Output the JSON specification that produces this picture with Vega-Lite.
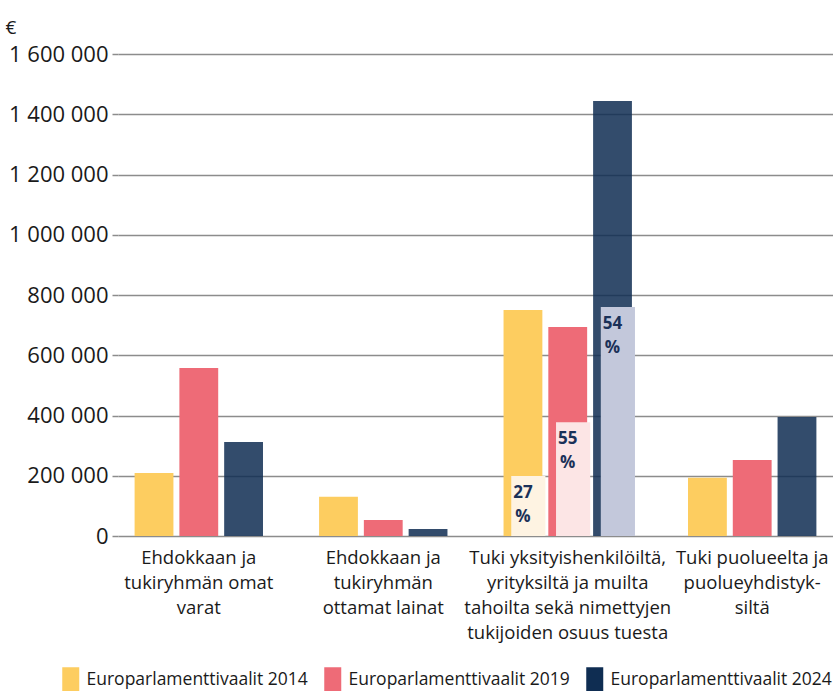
{
  "$schema": "https://vega.github.io/schema/vega-lite/v6.json",
  "autosize": {"type": "none"},
  "padding": {"left": 118, "top": 54, "right": 0, "bottom": 155},
  "width": 715,
  "height": 482,
  "background": "white",
  "config": {
    "font": "Open Sans",
    "view": {"stroke": null},
    "text": {"font": "Open Sans"},
    "axis": {"labelColor": "#1a1a1a", "titleColor": "#1a1a1a", "labelFont": "Open Sans", "titleFont": "Open Sans"},
    "legend": {"labelFont": "Open Sans"}
  },
  "data": {
    "values": [
      {"category": "Ehdokkaan ja\ntukiryhmän omat\nvarat", "year": "Europarlamenttivaalit 2014", "value": 209000},
      {"category": "Ehdokkaan ja\ntukiryhmän omat\nvarat", "year": "Europarlamenttivaalit 2019", "value": 558000},
      {"category": "Ehdokkaan ja\ntukiryhmän omat\nvarat", "year": "Europarlamenttivaalit 2024", "value": 312000},
      {"category": "Ehdokkaan ja\ntukiryhmän\nottamat lainat", "year": "Europarlamenttivaalit 2014", "value": 130000},
      {"category": "Ehdokkaan ja\ntukiryhmän\nottamat lainat", "year": "Europarlamenttivaalit 2019", "value": 53000},
      {"category": "Ehdokkaan ja\ntukiryhmän\nottamat lainat", "year": "Europarlamenttivaalit 2024", "value": 23000},
      {"category": "Tuki yksityishenkilöiltä,\nyrityksiltä ja muilta\ntahoilta sekä nimettyjen\ntukijoiden osuus tuesta", "year": "Europarlamenttivaalit 2014", "value": 750000, "named": 199000, "share": "27 %"},
      {"category": "Tuki yksityishenkilöiltä,\nyrityksiltä ja muilta\ntahoilta sekä nimettyjen\ntukijoiden osuus tuesta", "year": "Europarlamenttivaalit 2019", "value": 694000, "named": 378000, "share": "55 %"},
      {"category": "Tuki yksityishenkilöiltä,\nyrityksiltä ja muilta\ntahoilta sekä nimettyjen\ntukijoiden osuus tuesta", "year": "Europarlamenttivaalit 2024", "value": 1444000, "named": 760000, "share": "54 %"},
      {"category": "Tuki puolueelta ja\npuolueyhdistyk-\nsiltä", "year": "Europarlamenttivaalit 2014", "value": 193000},
      {"category": "Tuki puolueelta ja\npuolueyhdistyk-\nsiltä", "year": "Europarlamenttivaalit 2019", "value": 252000},
      {"category": "Tuki puolueelta ja\npuolueyhdistyk-\nsiltä", "year": "Europarlamenttivaalit 2024", "value": 395000}
    ]
  },
  "encoding": {
    "x": {
      "field": "category", "type": "nominal", "sort": null,
      "scale": {"paddingInner": 0.304, "paddingOuter": 0.09},
      "axis": {
        "title": null, "domain": false, "ticks": false, "labelAngle": 0,
        "labelExpr": "split(datum.label, '\\n')",
        "labelFontSize": 18.5, "labelLineHeight": 25, "labelPadding": 12,
        "labelLimit": 300, "labelColor": "#1a1a1a"
      }
    },
    "xOffset": {"field": "year", "type": "nominal", "scale": {"paddingInner": 0.133, "paddingOuter": 0}}
  },
  "layer": [
    {
      "mark": {"type": "bar"},
      "encoding": {
        "y": {
          "field": "value", "type": "quantitative",
          "scale": {"domain": [0, 1600000], "nice": false},
          "axis": {
            "values": [0, 200000, 400000, 600000, 800000, 1000000, 1200000, 1400000, 1600000],
            "labelExpr": "replace(replace(format(datum.value, ','), ',', ' '), ',', ' ')",
            "grid": true, "gridColor": "#8c8c8c", "gridWidth": 1.5,
            "tickColor": "#8c8c8c", "tickWidth": 1.5, "tickSize": 6,
            "domain": false, "labelFontSize": 22, "labelPadding": 4,
            "title": "€", "titleAngle": 0, "titleX": -113, "titleY": -27,
            "titleAlign": "left", "titleBaseline": "middle", "titleFontSize": 19, "titleFontWeight": "normal"
          }
        },
        "color": {
          "field": "year", "type": "nominal",
          "scale": {"range": ["#fdcd60", "#ee6b77", "#0f2d52"]},
          "legend": {
            "title": null, "orient": "none", "legendX": -56, "legendY": 617,
            "direction": "horizontal", "symbolType": "M-1,-1.5H1V1.5H-1Z", "symbolSize": 289,
            "symbolStrokeWidth": 0, "labelFont": "Open Sans", "labelFontSize": 17.5, "labelOffset": 7,
            "columnPadding": 16, "labelColor": "#1a1a1a", "labelLimit": 300
          }
        },
        "opacity": {"condition": {"test": "datum.year == 'Europarlamenttivaalit 2024'", "value": 0.85}, "value": 1}
      }
    },
    {
      "transform": [{"filter": "datum.named != null"}],
      "mark": {"type": "bar", "width": {"band": 0.88}},
      "encoding": {
        "y": {"field": "named", "type": "quantitative"},
        "color": {
          "field": "year", "type": "nominal",
          "scale": {"range": ["#fef3e2", "#fce5e5", "#c3c8db"]},
          "legend": null
        }
      }
    },
    {
      "transform": [{"filter": "datum.named != null"}],
      "mark": {"type": "text", "font": "Open Sans", "baseline": "top", "dy": 9, "fontSize": 17, "fontWeight": "bold", "color": "#1b3158", "lineBreak": " ", "lineHeight": 24},
      "encoding": {
        "y": {"field": "named", "type": "quantitative"},
        "text": {"field": "share"}
      }
    }
  ],
  "resolve": {"scale": {"color": "independent"}}
}
